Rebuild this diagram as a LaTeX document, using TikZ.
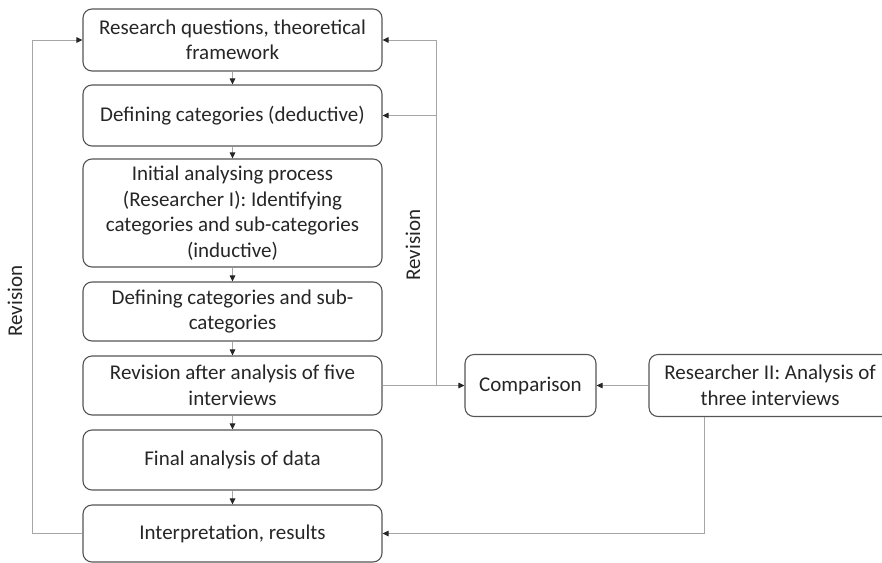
\documentclass[tikz,border=0pt]{standalone}
\usepackage{fontspec}
\setmainfont{Carlito}
\usetikzlibrary{arrows.meta}
\definecolor{boxline}{HTML}{555555}
\definecolor{connline}{HTML}{A6A6A6}
\definecolor{txt}{HTML}{262626}
\begin{document}
\begin{tikzpicture}[x=1pt,y=-1pt,
  flowbox/.style={draw=boxline, line width=1.1pt, rounded corners=9pt, align=center,
    text=txt, font=\fontsize{21}{25.5}\selectfont, inner sep=0pt},
  mainbox/.style={flowbox, minimum width=299pt},
  conn/.style={draw=connline, line width=1pt},
  tip/.style={-{Triangle[length=6pt,width=5.5pt,color=txt]}},
  lbl/.style={text=txt, font=\fontsize{21}{25.5}\selectfont, rotate=90, inner sep=0pt}]
\useasboundingbox (0,0) rectangle (882,562);
\clip (0,0) rectangle (882,562);
\node[mainbox, minimum height=62pt] (b1) at (232.5,40) {Research questions, theoretical\\framework};
\node[mainbox, minimum height=61pt] (b2) at (232.5,115.5) {Defining categories (deductive)};
\node[mainbox, minimum height=108pt] (b3) at (232.5,213) {Initial analysing process\\(Researcher I): Identifying\\categories and sub-categories\\(inductive)};
\node[mainbox, minimum height=59pt] (b4) at (232.5,311.5) {Defining categories and sub-\\categories};
\node[mainbox, minimum height=59pt] (b5) at (232.5,385.5) {Revision after analysis of five\\interviews};
\node[mainbox, minimum height=60pt] (b6) at (232.5,460) {Final analysis of data};
\node[mainbox, minimum height=57pt] (b7) at (232.5,533.5) {Interpretation, results};
\node[flowbox, minimum width=131pt, minimum height=62pt] (cmp) at (530.5,385.5) {Comparison};
\node[flowbox, minimum width=242pt, minimum height=62pt] (r2) at (770,385.5) {Researcher II: Analysis of\\three interviews};
\node[lbl] (revL) at (15,301) {Revision};
\node[lbl] (revR) at (413,245) {Revision};
\coordinate (L) at (32,0);
\coordinate (R) at (436,0);
\coordinate (D) at (704,0);
% main chain
\foreach \a/\b in {b1/b2,b2/b3,b3/b4,b4/b5,b5/b6,b6/b7}
  \draw[conn, tip] (\a.south) -- (\b.north);
% left revision loop
\draw[conn, tip] (b7.west) -- (b7.west -| L) |- (b1.west);
% right revision loop
\draw[conn, tip] (b5.east) -- (cmp.west);
\draw[conn, tip] (b5.east -| R) |- (b1.east);
\draw[conn, tip] (b2.east -| R) -- (b2.east);
% researcher II
\draw[conn, tip] (r2.west) -- (cmp.east);
\draw[conn, tip] (r2.south -| D) |- (b7.east);
\end{tikzpicture}
\end{document}
